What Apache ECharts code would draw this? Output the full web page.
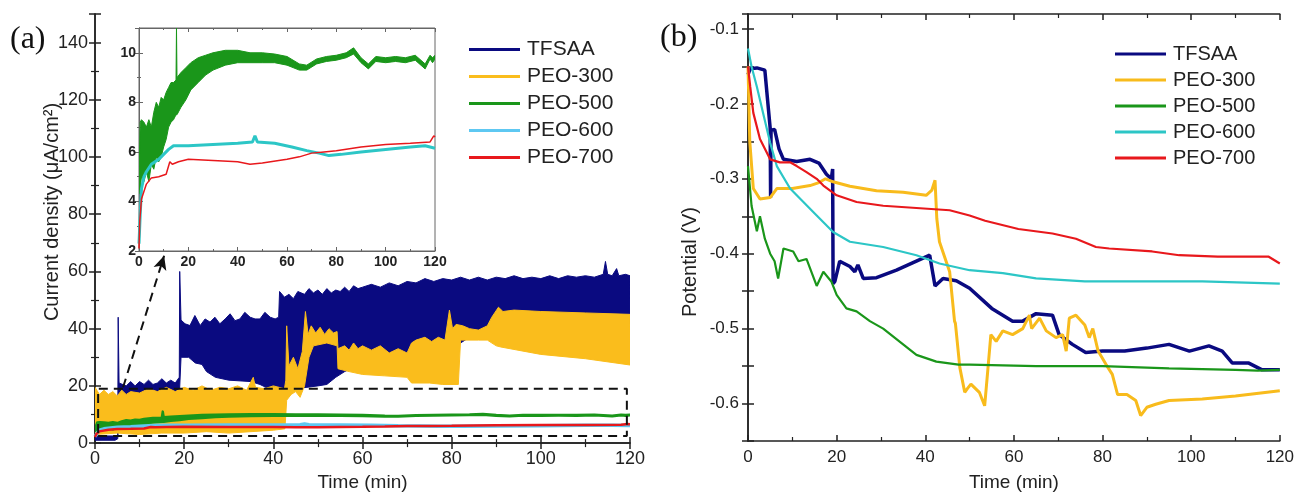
<!DOCTYPE html>
<html>
<head>
<meta charset="utf-8">
<script src="https://cdn.jsdelivr.net/npm/echarts@6/dist/echarts.min.js"></script>
<style>
  html, body { margin: 0; padding: 0; background: #fff; }
  #wrap { position: relative; width: 1297px; height: 497px; }
  #chartA { position: absolute; left: 0; top: 0; width: 648px; height: 497px; }
  #chartB { position: absolute; left: 648px; top: 0; width: 649px; height: 497px; }
</style>
</head>
<body>
<div id="wrap">
  <div id="chartA"></div>
  <div id="chartB"></div>
</div>
<script>
// ---------- panel (a): current density, noisy traces kept as upper/lower envelopes ----------
const names = ['TFSAA', 'PEO-300', 'PEO-500', 'PEO-600', 'PEO-700']

const tfsaaTopT = [0, 4.5, 5.1, 5.2, 5.4, 7, 8, 9, 10, 11, 12, 13, 14, 15, 16, 17, 18, 18.9, 19.0, 19.3, 20.2, 21.3, 22.4, 23.6, 24.7, 25.8, 26.9, 28.0, 29.2, 30.3, 31.4, 32.5, 33.6, 34.8, 35.9, 37.0, 38.1, 39.3, 40.4, 41.2, 41.4, 42.5, 43.5, 44.5, 45.5, 47, 48, 49, 50, 51, 52, 53, 54, 55, 56, 57, 58, 59, 60, 62, 64, 66, 68, 70, 72, 74, 76, 78, 80, 82, 84, 86, 88, 90, 92, 94, 96, 98, 100, 102, 104, 106, 108, 110, 112, 114, 114.5, 115, 116, 117, 117.5, 119, 120]
const tfsaaTopV = [2.5, 2.5, 2.5, 44, 21, 20, 21.5, 20, 21.5, 20.5, 22, 20.5, 21, 22.5, 21, 22, 21, 23, 60, 43, 41.7, 41.1, 44.6, 41.1, 43.4, 42.3, 44, 41.7, 43.4, 45.2, 42.8, 43.4, 45.7, 44, 43.4, 43.4, 45.7, 44, 43.4, 44, 53, 51, 52, 50.5, 53, 52, 54, 52.5, 53.5, 52, 54, 52.5, 53.5, 53, 54.5, 53, 55, 54, 54.5, 55.5, 54.5, 56, 55, 56.5, 56, 57.5, 56.5, 57.5, 57, 58, 57, 58, 57, 58, 57.5, 58.5, 57.5, 58, 57.5, 58.5, 57.5, 58.5, 58, 58.5, 58, 59, 63.5, 59, 58.5, 61, 58.5, 59, 58.5]
const tfsaaLowT = [0, 4.5, 5.1, 5.5, 10, 15, 18.9, 19.3, 21, 22.5, 24, 25, 27, 30, 35, 37, 39, 41, 45, 50, 52, 54, 56, 60, 70, 80, 84, 87, 89, 95, 110, 120]
const tfsaaLowV = [1, 1, 1.5, 15, 15.5, 16, 16, 30, 30, 28, 27.5, 25, 23, 22, 21.5, 20.5, 19, 18.5, 19, 20, 20.5, 23, 25, 28, 30, 33, 37, 36.7, 38, 39, 40, 41]

const peo300TopT = [0, 1, 2, 3, 4, 5, 6, 7, 8, 10, 12, 14, 16, 18, 20, 22, 24, 26, 28, 30, 32, 34, 35.5, 36, 38, 40, 42.5, 42.8, 43, 43.5, 44.5, 45.5, 46.5, 47.2, 47.8, 48.5, 49.5, 50.5, 51.5, 52.5, 53.5, 54.3, 54.5, 56, 57, 58, 59, 60, 62, 64, 66, 68, 70, 71, 72, 74, 75.5, 77, 78.5, 79.5, 80.2, 81, 82.5, 84, 86, 88, 89, 90.5, 91.5, 94, 100, 110, 120]
const peo300TopV = [19.5, 17, 18.5, 17, 18, 16.5, 18.5, 17, 18, 17.5, 19, 18, 19.5, 18, 19.5, 18.5, 20, 18.5, 19.5, 19, 20, 18.5, 23, 19.5, 19, 20, 19, 22, 41, 27, 30, 26, 32, 46, 38, 41, 38.5, 40.5, 38, 40, 38.5, 39, 33, 34, 32.5, 35, 33, 34, 32.5, 34, 31.5, 33, 31.5, 35, 36, 37, 35.5, 37, 36, 46.5, 40, 41.5, 41, 40, 39.5, 41, 44, 47.5, 46, 46.5, 46, 45.5, 45]
const peo300LowT = [0, 5, 10, 15, 20, 25, 30, 35, 40, 42.6, 43, 44, 45, 46, 47, 48, 49, 52, 54.3, 54.5, 57, 60, 65, 70, 71, 75, 78, 81.5, 82, 86, 88, 90, 91, 100, 110, 120]
const peo300LowV = [3, 3.5, 3, 3.5, 3.5, 4, 3.5, 4, 4.5, 5, 15, 17, 18, 16, 20, 30, 34, 35, 34, 26, 25, 24, 23.5, 23, 21, 21, 20.5, 20.5, 36, 36, 36, 34, 33.6, 31, 29.5, 27.3]

const peo500T    = [0, 0.5, 1, 2, 3, 4, 5, 6, 7, 8, 9, 10, 11, 12, 13, 14, 15, 15.2, 15.4, 17, 19, 21, 24, 27, 30, 35, 40, 45, 50, 55, 60, 65, 68, 72, 76, 80, 84, 87, 90, 93, 96, 100, 104, 108, 112, 116, 118, 119, 120]
const peo500Low  = [4.3, 4.5, 5, 4.8, 5.2, 4.8, 5.5, 5.3, 5.8, 5.6, 5.8, 6.2, 6.5, 7, 7.2, 7.3, 7.5, 7.5, 7.5, 7.8, 8.1, 8.5, 8.8, 9.1, 9.3, 9.5, 9.6, 9.6, 9.6, 9.6, 9.5, 9.3, 9.3, 9.55, 9.65, 9.7, 9.8, 9.95, 9.6, 9.35, 9.65, 9.6, 9.65, 9.6, 9.7, 9.35, 9.75, 9.6, 9.75]
const peo500High = [5, 7.2, 7.3, 7.2, 7, 7.3, 7, 7.6, 8, 7.8, 8.2, 8.1, 8.4, 8.6, 8.8, 8.8, 8.9, 11, 9, 9.2, 9.4, 9.6, 9.8, 9.9, 10, 10.1, 10.1, 10, 10, 9.95, 9.85, 9.55, 9.5, 9.75, 9.85, 9.9, 10, 10.2, 9.8, 9.55, 9.85, 9.8, 9.85, 9.8, 9.9, 9.55, 9.9, 9.8, 9.9]

const peo600T = [0, 0.5, 1, 2, 3, 5, 8, 10, 12, 14, 20, 30, 40, 46, 47, 48, 55, 62, 68, 73, 77, 82, 90, 100, 110, 116, 120]
const peo600V = [2.3, 3.5, 4.5, 5, 5.2, 5.5, 5.7, 5.9, 6.1, 6.25, 6.25, 6.3, 6.35, 6.4, 6.65, 6.4, 6.35, 6.2, 6.05, 5.95, 5.85, 5.9, 6.0, 6.1, 6.2, 6.25, 6.15]

const peo700T = [0, 0.3, 1, 3, 5, 8, 11, 12.5, 13.5, 16, 20, 30, 40, 45, 50, 60, 65, 70, 75, 80, 90, 100, 110, 118, 119.5, 120]
const peo700V = [2.1, 3.2, 4.1, 4.7, 4.95, 5.0, 5.1, 5.6, 5.5, 5.6, 5.7, 5.65, 5.6, 5.5, 5.55, 5.7, 5.8, 5.95, 6.0, 6.05, 6.2, 6.3, 6.35, 6.4, 6.65, 6.6]

// dashed zoom box and the arrow pointing to the inset (data coords of panel a)
const boxX = [0.7, 119.3, 119.3, 0.7, 0.7]
const boxY = [2.5, 2.5, 19, 19, 2.5]
const arrowFrom = [6.3, 19.5]
const arrowTo = [15.5, 65.5]

// ---------- panel (b): potential ----------
const tfsaaBT = [0, 0.5, 2, 3.8, 4.5, 5.0, 5.1, 5.2, 6, 7, 8, 11, 14, 16, 17.7, 18.8, 19.1, 19.2, 19.4, 19.6, 20.7, 23, 24.1, 24.8, 26, 29, 33.5, 38, 41, 42.2, 44, 47, 50, 55, 59.7, 62, 65, 68.7, 70.2, 73.2, 76.2, 80, 85, 90, 95, 99.6, 104, 107, 109.3, 113, 116, 120]
const tfsaaBV = [-0.161, -0.153, -0.152, -0.155, -0.2, -0.232, -0.325, -0.235, -0.234, -0.26, -0.274, -0.277, -0.274, -0.279, -0.294, -0.3, -0.287, -0.44, -0.44, -0.437, -0.41, -0.417, -0.424, -0.415, -0.433, -0.432, -0.422, -0.41, -0.402, -0.443, -0.433, -0.436, -0.446, -0.473, -0.49, -0.49, -0.48, -0.482, -0.508, -0.521, -0.532, -0.53, -0.53, -0.526, -0.521, -0.53, -0.523, -0.53, -0.546, -0.546, -0.555, -0.555]

const peo300BT = [0, 0.4, 1.2, 2.7, 5, 6.5, 10, 14, 16, 17.5, 19.2, 23, 29, 35, 40.2, 41.5, 42.2, 42.6, 43.2, 45.5, 46.6, 46.8, 47.8, 48.9, 49.5, 50.3, 52.2, 53.4, 54.1, 54.8, 56, 57.5, 59.7, 62, 63.5, 64, 65.8, 67.3, 69.5, 71, 71.8, 72.5, 74, 76, 77, 77.8, 79, 80.8, 82.2, 83.4, 85.5, 87.5, 88.6, 90, 92, 95, 102.5, 110, 120]
const peo300BV = [-0.15, -0.25, -0.313, -0.327, -0.325, -0.313, -0.313, -0.309, -0.305, -0.3, -0.304, -0.31, -0.316, -0.318, -0.322, -0.315, -0.302, -0.353, -0.384, -0.424, -0.49, -0.493, -0.552, -0.585, -0.58, -0.574, -0.585, -0.603, -0.556, -0.508, -0.517, -0.503, -0.508, -0.5, -0.482, -0.5, -0.486, -0.503, -0.512, -0.508, -0.53, -0.486, -0.482, -0.495, -0.512, -0.5, -0.53, -0.548, -0.561, -0.588, -0.588, -0.596, -0.616, -0.605, -0.601, -0.596, -0.594, -0.59, -0.583]

const peo500BT = [0, 0.8, 2, 2.7, 3.8, 5, 6, 6.8, 8, 10.2, 11.4, 13.2, 15.5, 17, 18.8, 20, 22.2, 24.5, 27.5, 30.5, 35, 38, 42.5, 47.5, 50, 65, 80, 95, 110, 115, 120]
const peo500BV = [-0.283, -0.336, -0.37, -0.35, -0.38, -0.4, -0.41, -0.433, -0.393, -0.397, -0.41, -0.407, -0.443, -0.424, -0.437, -0.455, -0.473, -0.477, -0.49, -0.5, -0.521, -0.535, -0.544, -0.548, -0.548, -0.55, -0.55, -0.553, -0.555, -0.556, -0.555]

const peo600BT = [0, 0.8, 2, 3.4, 5, 6.5, 9.5, 12.5, 15.5, 19.2, 23, 30.5, 38, 43.2, 50, 57.5, 65, 76, 89, 102.5, 120]
const peo600BV = [-0.126, -0.15, -0.177, -0.212, -0.252, -0.283, -0.313, -0.331, -0.349, -0.371, -0.384, -0.391, -0.402, -0.413, -0.422, -0.426, -0.433, -0.437, -0.437, -0.437, -0.44]

const peo700BT = [0, 0.5, 1.2, 2.7, 5, 7.2, 9.5, 11, 13.2, 15.5, 17, 20, 24.5, 30.5, 38, 45.5, 50, 53.5, 61, 68.7, 74, 78.5, 81.5, 91.2, 97.3, 106, 117.5, 120]
const peo700BV = [-0.15, -0.177, -0.212, -0.247, -0.274, -0.278, -0.278, -0.283, -0.291, -0.3, -0.309, -0.322, -0.331, -0.336, -0.339, -0.342, -0.349, -0.356, -0.367, -0.373, -0.38, -0.391, -0.393, -0.397, -0.402, -0.404, -0.404, -0.413]

const colorsA = ['#0a0a80', '#fabd1c', '#1a961a', '#5ec8f2', '#e8181c']
const colorsB = ['#0a0a80', '#f8bb1c', '#1a961a', '#2cc6c6', '#e8181c']
const inset600Color = '#2cc6c6'

const FONT = 'Liberation Sans'

const pairs = (xs, ys) => xs.map((x, i) => [x, ys[i]])

// a noisy trace drawn as one filled polygon: upper edge forward, lower edge back
const band = (name, topT, topV, lowT, lowV, color, xi, yi, z, edge) => ({
  name: name, type: 'custom', xAxisIndex: xi, yAxisIndex: yi, silent: true, clip: true, z: z,
  itemStyle: { color: color },
  data: pairs(topT, topV).concat(pairs(lowT, lowV)),
  renderItem: (params, api) => {
    if (params.dataIndex !== 0) return null
    const top = topT.map((x, i) => api.coord([x, topV[i]]))
    const bottom = lowT.map((x, i) => api.coord([x, lowV[i]])).reverse()
    return {
      type: 'polygon',
      shape: { points: top.concat(bottom) },
      style: { fill: color, stroke: color, lineWidth: edge || 1, lineJoin: 'round' }
    }
  }
})

const line = (name, xs, ys, color, width, xi, yi, z) => ({
  name: name, type: 'line', xAxisIndex: xi, yAxisIndex: yi, symbol: 'none', z: z || 2,
  color: color, lineStyle: { width: width, color: color }, silent: true,
  data: pairs(xs, ys)
})

const frameAxis = (extra) => Object.assign({
  type: 'value',
  axisLine: { show: true, lineStyle: { color: '#222', width: 1.5 } },
  axisTick: { show: true, inside: true, length: 6, lineStyle: { color: '#222', width: 1.5 } },
  minorTick: { show: true, splitNumber: 2, length: 4, lineStyle: { color: '#222', width: 1.2 } },
  splitLine: { show: false },
  minorSplitLine: { show: false }
}, extra)

const insetAxis = (extra) => frameAxis(Object.assign({
  gridIndex: 1, z: 6,
  axisLine: { show: true, lineStyle: { color: '#666', width: 1 } },
  axisTick: { show: true, inside: true, length: 4, lineStyle: { color: '#666' } },
  minorTick: { show: true, splitNumber: 2, length: 2, lineStyle: { color: '#666' } }
}, extra))

const legendBlock = (left, top, colors, fontSize, gap) => ({
  left: left, top: top, orient: 'vertical',
  icon: 'rect', itemWidth: 51, itemHeight: 3, itemGap: gap,
  textStyle: { fontFamily: FONT, fontSize: fontSize, color: '#222', padding: [0, 0, 0, 2] },
  data: names.map((n, i) => ({ name: n, itemStyle: { color: colors[i] } })),
  selectedMode: false
})

// ---------------- chart A ----------------
const chartA = echarts.init(document.getElementById('chartA'))
const insetLabel = { fontFamily: FONT, fontSize: 14, fontWeight: 'bold', color: '#222' }

chartA.setOption({
  animation: false,
  grid: [
    { left: 95, top: 14, width: 535, height: 433 },
    { left: 139, top: 28, width: 296, height: 223, show: true, backgroundColor: '#fff', borderColor: '#666', borderWidth: 1, z: 5 }
  ],
  xAxis: [
    frameAxis({ gridIndex: 0, min: 0, max: 120, interval: 20, position: 'bottom',
      axisLabel: { fontFamily: FONT, fontSize: 18, color: '#222', margin: 7 },
      name: 'Time (min)', nameLocation: 'middle', nameGap: 29,
      nameTextStyle: { fontFamily: FONT, fontSize: 19, color: '#222' } }),
    frameAxis({ gridIndex: 0, min: 0, max: 120, interval: 20, position: 'top', axisLabel: { show: false } }),
    insetAxis({ min: 0, max: 120, interval: 20, position: 'bottom', axisLabel: Object.assign({ margin: 4 }, insetLabel) }),
    insetAxis({ min: 0, max: 120, interval: 20, position: 'top', axisLabel: { show: false } })
  ],
  yAxis: [
    frameAxis({ gridIndex: 0, min: 0, max: 150, interval: 20, position: 'left',
      axisLabel: { fontFamily: FONT, fontSize: 18, color: '#222', margin: 7, showMaxLabel: false } }),
    frameAxis({ gridIndex: 0, min: 0, max: 150, interval: 20, position: 'right', axisLabel: { show: false } }),
    insetAxis({ min: 2, max: 11, interval: 2, position: 'left', axisLabel: Object.assign({ margin: 3, showMaxLabel: false }, insetLabel) }),
    insetAxis({ min: 2, max: 11, interval: 2, position: 'right', axisLabel: { show: false } })
  ],
  legend: legendBlock(464, 34, colorsA, 21, 6),
  graphic: [
    { type: 'text', left: 10, top: 24, style: { text: '(a)', fontFamily: 'Liberation Serif', fontSize: 32, fill: '#111' } },
    { type: 'text', x: 52, y: 212, rotation: Math.PI / 2,
      style: { text: 'Current density (\u03bcA/cm\u00b2)', fontFamily: FONT, fontSize: 20, fill: '#222', align: 'center', verticalAlign: 'middle' } }
  ],
  series: [
    band('TFSAA', tfsaaTopT, tfsaaTopV, tfsaaLowT, tfsaaLowV, colorsA[0], 0, 0, 2, 1),
    band('PEO-300', peo300TopT, peo300TopV, peo300LowT, peo300LowV, colorsA[1], 0, 0, 3, 1),
    band('PEO-500', peo500T, peo500High, peo500T, peo500Low, colorsA[2], 0, 0, 4, 2.5),
    line('PEO-600', peo600T, peo600V, colorsA[3], 3.5, 0, 0, 4),
    line('PEO-700', peo700T, peo700V, colorsA[4], 2.5, 0, 0, 4),
    {
      name: 'box', type: 'line', xAxisIndex: 0, yAxisIndex: 0, symbol: 'none', silent: true,
      lineStyle: { color: '#111', width: 2, type: [9, 6] },
      data: pairs(boxX, boxY), z: 4,
      markLine: {
        silent: true, symbol: ['none', 'arrow'], symbolSize: [10, 14],
        label: { show: false },
        lineStyle: { color: '#111', width: 2, type: [9, 6] },
        data: [[{ coord: arrowFrom }, { coord: arrowTo }]]
      }
    },
    // inset: the same three traces on the zoomed axes
    band('PEO-500', peo500T, peo500High, peo500T, peo500Low, colorsA[2], 2, 2, 7, 1),
    line('PEO-600', peo600T, peo600V, inset600Color, 3, 2, 2, 7),
    line('PEO-700', peo700T, peo700V, colorsA[4], 1.5, 2, 2, 7)
  ]
})

// ---------------- chart B ----------------
const chartB = echarts.init(document.getElementById('chartB'))
chartB.setOption({
  animation: false,
  grid: { left: 100, top: 14, width: 533, height: 430 },
  xAxis: [
    frameAxis({ min: 0, max: 120, interval: 20, position: 'bottom',
      axisLabel: { fontFamily: FONT, fontSize: 17, color: '#222', margin: 8 },
      name: 'Time (min)', nameLocation: 'middle', nameGap: 32,
      nameTextStyle: { fontFamily: FONT, fontSize: 19, color: '#222' } }),
    frameAxis({ min: 0, max: 120, interval: 20, position: 'top', axisLabel: { show: false } })
  ],
  yAxis: [
    frameAxis({ min: -0.65, max: -0.08, interval: 0.05, position: 'left', minorTick: { show: false },
      axisLabel: { fontFamily: FONT, fontSize: 17, color: '#222', margin: 9, showMaxLabel: false,
        formatter: v => (Math.round(v * 100) % 10 === 0 ? v.toFixed(1) : '') } }),
    frameAxis({ min: -0.65, max: -0.08, interval: 0.05, position: 'right', minorTick: { show: false }, axisLabel: { show: false } })
  ],
  legend: legendBlock(462, 39, colorsB, 20, 6),
  graphic: [
    { type: 'text', left: 12, top: 22, style: { text: '(b)', fontFamily: 'Liberation Serif', fontSize: 32, fill: '#111' } },
    { type: 'text', x: 42, y: 262, rotation: Math.PI / 2,
      style: { text: 'Potential (V)', fontFamily: FONT, fontSize: 20, fill: '#222', align: 'center', verticalAlign: 'middle' } }
  ],
  series: [
    line('TFSAA', tfsaaBT, tfsaaBV, colorsB[0], 3.5, 0, 0),
    line('PEO-300', peo300BT, peo300BV, colorsB[1], 3, 0, 0),
    line('PEO-500', peo500BT, peo500BV, colorsB[2], 2.2, 0, 0),
    line('PEO-600', peo600BT, peo600BV, colorsB[3], 2.2, 0, 0),
    line('PEO-700', peo700BT, peo700BV, colorsB[4], 2.2, 0, 0)
  ]
})
</script>
</body>
</html>
